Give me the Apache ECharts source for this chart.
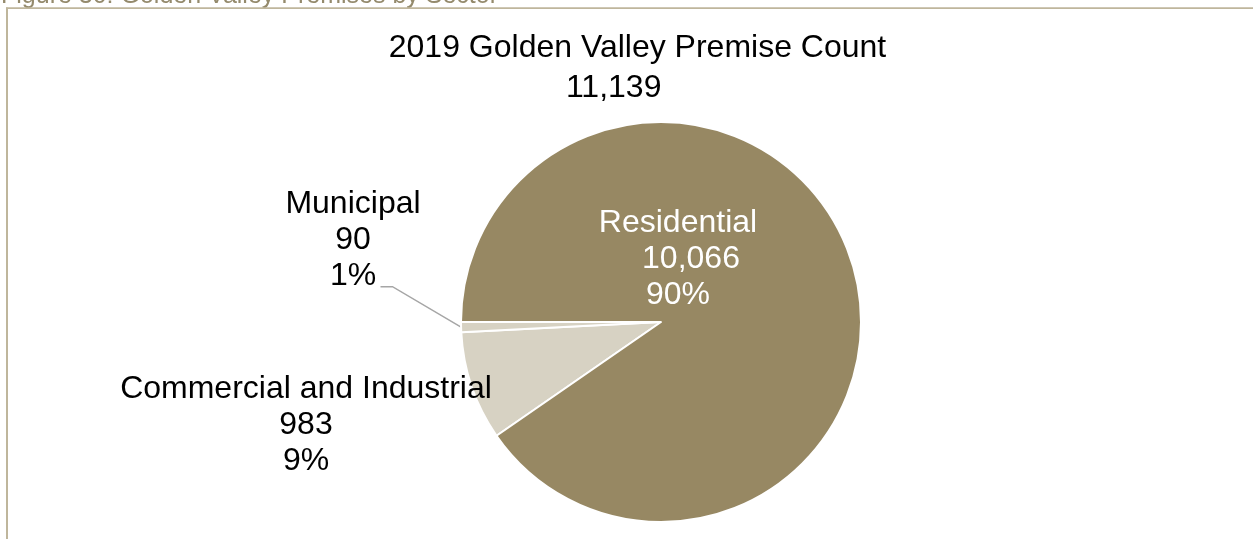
<!DOCTYPE html>
<html>
<head>
<meta charset="utf-8">
<title>Golden Valley Premises by Sector</title>
<script src="https://cdn.jsdelivr.net/npm/echarts@6/dist/echarts.min.js"></script>
<style>
  html, body { margin: 0; padding: 0; background: #ffffff; }
  #chart { width: 1253px; height: 539px; }
</style>
</head>
<body>
<div id="chart"></div>
<script>
// Premise counts by sector (2019)
const sectors = ['Commercial and Industrial', 'Municipal', 'Residential'];
const premises = [983, 90, 10066];
const captionText = 'Figure 30: Golden Valley Premises by Sector';
const titleText = '2019 Golden Valley Premise Count';

const FONT = '"Liberation Sans", Arial, Helvetica, sans-serif';
const sliceColors = ['#D7D2C3', '#D7D2C3', '#978863'];
const frameColor = '#BFB69C';

const total = premises.reduce((a, b) => a + b, 0);
const fmt = (n) => echarts.format.addCommas(n);

// Slices run clockwise; the residential slice begins at 9 o'clock.
const startAngle = 180 + (premises[0] + premises[1]) / total * 360;

const chart = echarts.init(document.getElementById('chart'), null, { renderer: 'canvas' });

const seriesData = sectors.map((name, i) => {
  const isResidential = name === 'Residential';
  return {
    name: name,
    value: premises[i],
    itemStyle: { color: sliceColors[i] },
    label: {
      position: isResidential ? 'inside' : 'outside',
      color: isResidential ? '#ffffff' : '#000000'
    },
    labelLine: { show: name === 'Municipal' }
  };
});

// Label anchors (centre of each three-line block)
const labelSpots = {
  'Commercial and Industrial': [306, 425.5],
  'Municipal': [353, 240],
  'Residential': [678, 259.5]
};

const option = {
  backgroundColor: '#ffffff',
  animation: false,
  graphic: [
    {
      type: 'text', x: 1, y: -4, silent: true,
      style: { text: captionText, font: '25px ' + FONT, fill: '#948A6C', align: 'left', verticalAlign: 'middle' }
    },
    {
      type: 'line', silent: true,
      shape: { x1: 6, y1: 8.2, x2: 1260, y2: 8.2 },
      style: { stroke: frameColor, lineWidth: 1.7 }
    },
    {
      type: 'line', silent: true,
      shape: { x1: 7, y1: 7.5, x2: 7, y2: 560 },
      style: { stroke: frameColor, lineWidth: 2 }
    },
    {
      type: 'text', x: 637.5, y: 47.8, silent: true,
      style: { text: titleText, font: '32px ' + FONT, fill: '#000000', align: 'center', verticalAlign: 'middle' }
    },
    {
      type: 'text', x: 613.7, y: 88.3, silent: true,
      style: { text: fmt(total), font: '32px ' + FONT, fill: '#000000', align: 'center', verticalAlign: 'middle' }
    }
  ],
  series: [{
    type: 'pie',
    center: [661, 322],
    radius: 200,
    startAngle: startAngle,
    clockwise: true,
    avoidLabelOverlap: false,
    percentPrecision: 0,
    itemStyle: { borderColor: '#ffffff', borderWidth: 2 },
    emphasis: { disabled: true },
    label: {
      show: true,
      fontFamily: FONT,
      fontSize: 32,
      lineHeight: 36,
      align: 'center',
      formatter: function (p) {
        if (p.name === 'Residential') {
          return p.name + '\n{v|' + fmt(p.value) + '}\n' + p.percent + '%';
        }
        return p.name + '\n' + fmt(p.value) + '\n' + p.percent + '%';
      },
      rich: {
        v: { fontFamily: FONT, fontSize: 32, lineHeight: 36, color: '#ffffff', padding: [0, 0, 0, 26] }
      }
    },
    labelLine: {
      show: false,
      lineStyle: { color: '#A6A6A6', width: 1.5 }
    },
    labelLayout: function (params) {
      const name = sectors[params.dataIndex];
      const spot = labelSpots[name];
      const out = { x: spot[0], y: spot[1], align: 'center', verticalAlign: 'middle' };
      if (name === 'Municipal' && params.labelLinePoints) {
        const start = params.labelLinePoints[0];
        out.labelLinePoints = [[start[0], start[1]], [392.5, 286.7], [380.5, 286.7]];
      }
      return out;
    },
    data: seriesData
  }]
};

chart.setOption(option);
</script>
</body>
</html>
